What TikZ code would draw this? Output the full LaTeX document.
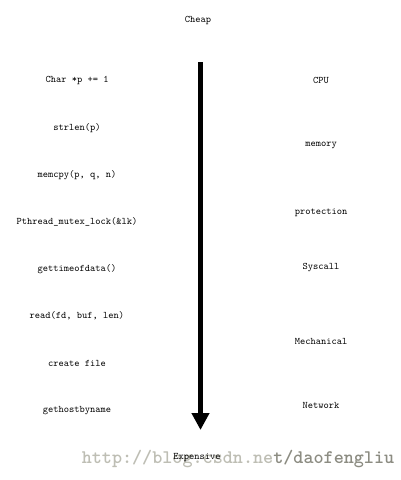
\documentclass[tikz,border=0pt]{standalone}
\usepackage{fontspec}
\usetikzlibrary{arrows.meta}
\definecolor{wmlight}{RGB}{190,190,180}
\definecolor{wmdark}{RGB}{140,140,130}
\tikzset{
  lbl/.style={inner sep=0pt, font=\ttfamily\fontsize{10}{12}\selectfont},
  wm/.style={inner sep=0pt, font=\ttfamily\bfseries\fontsize{19.2}{22}\selectfont},
  bigarrow/.style={line width=5pt, -{Triangle[width=17pt,length=17pt]}}
}
\begin{document}
\begin{tikzpicture}[x=1pt,y=-1pt]
\useasboundingbox[fill=white] (0,0) rectangle (401,480);
\node[lbl] (cheap) at (198,20) {Cheap};
\coordinate (top) at (200.5,62);
\coordinate (bottom) at (200.5,430);
\draw[bigarrow] (top) -- (bottom);
\node[lbl] (l1) at (77,80) {Char *p += 1};
\node[lbl] (l2) at (77,128) {strlen(p)};
\node[lbl] (l3) at (77,175) {memcpy(p, q, n)};
\node[lbl] (l4) at (77,222) {Pthread\_mutex\_lock(\&lk)};
\node[lbl] (l5) at (77,269) {gettimeofdata()};
\node[lbl] (l6) at (77,316) {read(fd, buf, len)};
\node[lbl] (l7) at (77,363) {create file};
\node[lbl] (l8) at (77,411) {gethostbyname};
\node[lbl] (r1) at (321,80) {CPU};
\node[lbl] (r2) at (321,145) {memory};
\node[lbl] (r3) at (321,213) {protection};
\node[lbl] (r4) at (321,268) {Syscall};
\node[lbl] (r5) at (321,341) {Mechanical};
\node[lbl] (r6) at (321,405) {Network};
\node[wm] (wmark) at (238,459) {\textcolor{wmlight}{http://blog.csdn.ne}\textcolor{wmdark}{t/daofengliu}};
\node[lbl] (exp) at (197,458) {Expensive};
\end{tikzpicture}
\end{document}
